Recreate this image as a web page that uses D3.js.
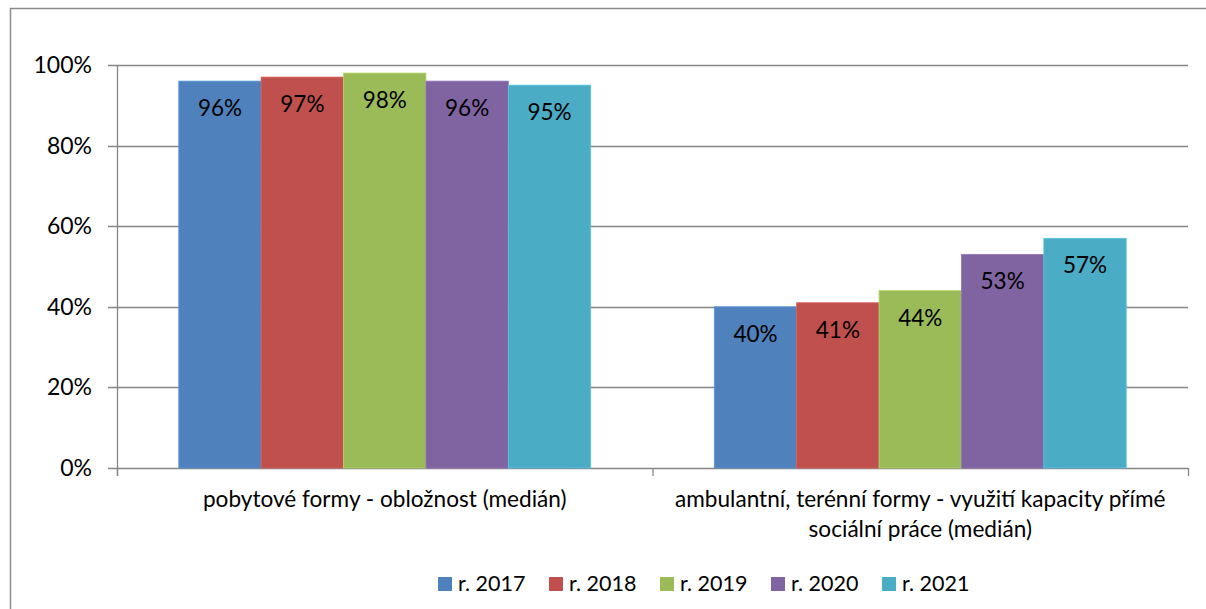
<!DOCTYPE html>
<html><head><meta charset="utf-8">
<script src="https://cdn.jsdelivr.net/npm/d3@7"></script>
<style>body{margin:0;background:#fff}svg{display:block}text{font-family:Lato,"Open Sans",sans-serif;fill:#000}</style>
</head><body><svg id="c" width="1206" height="609"></svg>
<script>
const categories = [["pobytové formy - obložnost (medián)"], ["ambulantní, terénní formy - využití kapacity přímé", "sociální práce (medián)"]];
const seriesNames = ["r. 2017", "r. 2018", "r. 2019", "r. 2020", "r. 2021"];
const colors = ["#4F81BD", "#C0504D", "#9BBB59", "#8064A2", "#4BACC6"];
const values2017 = [96, 40];
const values2018 = [97, 41];
const values2019 = [98, 44];
const values2020 = [96, 53];
const values2021 = [95, 57];
const yTicks = [0, 20, 40, 60, 80, 100];

const series = [values2017, values2018, values2019, values2020, values2021];
const svg = d3.select("#c");
svg.append("rect").attr("x", 10.5).attr("y", 8.5).attr("width", 1220).attr("height", 620)
  .attr("fill", "#fff").attr("stroke", "#8c8c8c").attr("stroke-width", 1.5);

const L = 117, R = 1188, T = 65, B = 468;
const x0 = d3.scaleBand().domain(d3.range(categories.length)).range([L, R]).paddingInner(0).paddingOuter(0);
const y = d3.scaleLinear().domain([0, 100]).range([B, T]);
const bw = x0.bandwidth() / (seriesNames.length + 1.5);
const x1 = d3.scaleBand().domain(d3.range(seriesNames.length)).range([0.75 * bw, 0.75 * bw + bw * seriesNames.length]).padding(0);

// gridlines
svg.append("g").selectAll("line").data(yTicks).join("line")
  .attr("x1", L - 9).attr("x2", R).attr("y1", d => Math.round(y(d)) + 0.5).attr("y2", d => Math.round(y(d)) + 0.5)
  .attr("stroke", "#868686").attr("stroke-width", 1.3);
// y axis line
svg.append("line").attr("x1", L + 0.5).attr("x2", L + 0.5).attr("y1", T).attr("y2", B + 8).attr("stroke", "#868686").attr("stroke-width", 1.3);
// category ticks
svg.append("g").selectAll("line").data([L, L + x0.bandwidth(), R]).join("line")
  .attr("x1", d => d + 0.5).attr("x2", d => d + 0.5).attr("y1", B).attr("y2", B + 8).attr("stroke", "#868686").attr("stroke-width", 1.3);

// y labels
svg.append("g").selectAll("text").data(yTicks).join("text")
  .attr("x", 92).attr("y", d => y(d)).attr("dy", "0.35em").attr("text-anchor", "end")
  .attr("font-size", 23).text(d => d + "%");

// bars
series.forEach((vals, si) => {
  const g = svg.append("g");
  g.selectAll("rect").data(vals).join("rect")
    .attr("x", (d, ci) => x0(ci) + x1(si)).attr("width", x1.bandwidth())
    .attr("y", d => y(d)).attr("height", d => B - y(d))
    .attr("fill", colors[si]).attr("stroke", d3.color(colors[si]).brighter(0.4)).attr("stroke-width", 0.8);
  g.selectAll("text").data(vals).join("text")
    .attr("x", (d, ci) => x0(ci) + x1(si) + x1.bandwidth() / 2).attr("y", d => y(d) + 35)
    .attr("text-anchor", "middle").attr("font-size", 22.5).text(d => d + "%");
});

// category labels
categories.forEach((lines, ci) => {
  const t = svg.append("text").attr("text-anchor", "middle").attr("font-size", 22.6);
  lines.forEach((ln, li) => t.append("tspan").attr("x", x0(ci) + x0.bandwidth() / 2).attr("y", 507 + li * 30).text(ln));
});

// legend
const lg = svg.append("g").selectAll("g").data(seriesNames).join("g")
  .attr("transform", (d, i) => `translate(${438 + i * 111},0)`);
lg.append("rect").attr("x", 0).attr("y", 577).attr("width", 14).attr("height", 14).attr("fill", (d, i) => colors[i]);
lg.append("text").attr("x", 20).attr("y", 591).attr("font-size", 21.5).text(d => d);
</script></body></html>
